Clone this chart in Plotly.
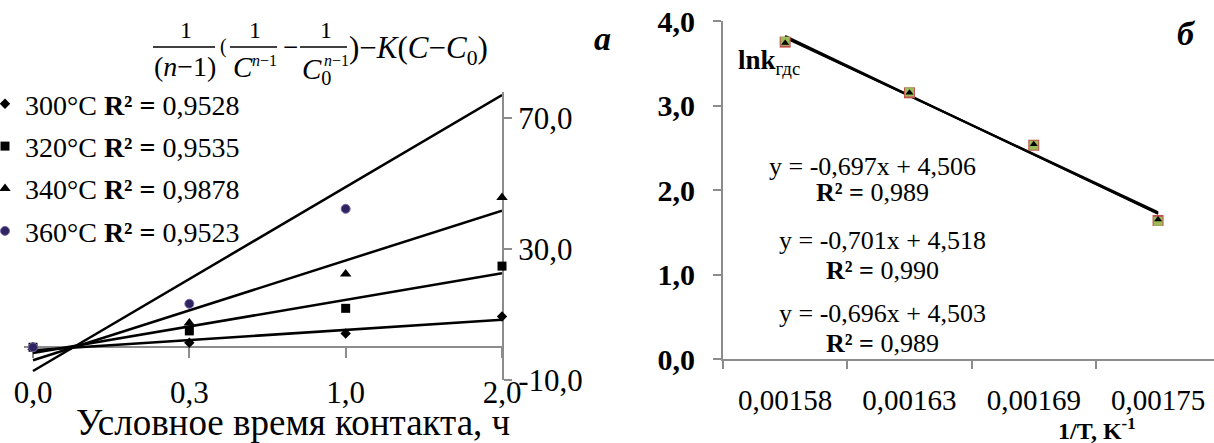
import numpy as np
import plotly.graph_objects as go

W, H = 1214, 443
def PX(x): return x / W
def PY(y): return 1 - y / H

FONT = "Liberation Serif, Times New Roman, serif"
GRAY = "#8c8c8c"

# ---------------- Left panel data ----------------
time_cats = ["0,0", "0,3", "1,0", "2,0"]
temps_left = ["300°C", "320°C", "340°C", "360°C"]
r2_left = ["0,9528", "0,9535", "0,9878", "0,9523"]
y300 = [0.0, 1.4, 4.2, 9.4]
y320 = [0.0, 5.0, 11.9, 24.8]
y340 = [0.0, 7.4, 22.4, 45.8]
y360 = [0.0, 13.3, 42.3, 84.0]
left_y_ticks = [-10, 30, 70]
left_y_ticktext = ["-10,0", "30,0", "70,0"]

# ---------------- Right panel data ----------------
inv_T_cats = ["0,00158", "0,00163", "0,00169", "0,00175"]
lnk_s1 = [3.75, 3.15, 2.53, 1.64]
lnk_s2 = [3.76, 3.16, 2.53, 1.63]
lnk_s3 = [3.74, 3.15, 2.54, 1.65]
eq_texts = ["y = -0,697x + 4,506", "y = -0,701x + 4,518", "y = -0,696x + 4,503"]
eq_r2 = ["0,989", "0,990", "0,989"]
right_y_ticks = [0, 1, 2, 3, 4]
right_y_ticktext = ["0,0", "1,0", "2,0", "3,0", "4,0"]

fig = go.Figure()

left_series = [y300, y320, y340, y360]
left_styles = [
    dict(symbol="diamond", size=8, color="black"),
    dict(symbol="square", size=9, color="black"),
    dict(symbol="triangle-up", size=10, color="black"),
    dict(symbol="circle", size=9, color="#2f2360", line=dict(color="#7a6aa8", width=1)),
]

idx = np.arange(len(time_cats))
for vals in left_series:
    k, b = np.polyfit(idx, vals, 1)
    fig.add_trace(go.Scatter(
        x=[time_cats[0], time_cats[-1]], y=[b, k * idx[-1] + b],
        mode="lines", line=dict(color="black", width=2.5),
        showlegend=False, hoverinfo="skip", xaxis="x", yaxis="y"))

for i, vals in enumerate(left_series):
    fig.add_trace(go.Scatter(
        x=time_cats, y=vals, mode="markers", marker=left_styles[i],
        name=f"{temps_left[i]} <b>R² =</b> {r2_left[i]}",
        legendgroup=f"g{i}", cliponaxis=(i == 3),
        xaxis="x", yaxis="y"))

fig.add_trace(go.Scatter(x=[0, 3], y=[None, None], xaxis="x3", yaxis="y",
                         showlegend=False, hoverinfo="skip", mode="lines"))

# ---------------- Right panel ----------------
right_series = [lnk_s1, lnk_s2, lnk_s3]
right_styles = [
    dict(symbol="square", size=11, color="#c0504d"),
    dict(symbol="square", size=9, color="#9bbb59"),
    dict(symbol="triangle-up", size=7, color="black"),
]
for vals in right_series:
    k, b = np.polyfit(idx, vals, 1)
    fig.add_trace(go.Scatter(
        x=[inv_T_cats[0], inv_T_cats[-1]], y=[b, k * idx[-1] + b],
        mode="lines", line=dict(color="black", width=2),
        showlegend=False, hoverinfo="skip", xaxis="x2", yaxis="y2"))
for i, vals in enumerate(right_series):
    fig.add_trace(go.Scatter(
        x=inv_T_cats, y=vals, mode="markers", marker=right_styles[i],
        showlegend=False, cliponaxis=False, xaxis="x2", yaxis="y2"))

# ---------------- Layout ----------------
L_dom_x = [PX(33 - 0.06 * 156.3), PX(502)]
L_dom_y = [PY(380), PY(92)]
R_dom_x = [PX(723), 1.0]
R_dom_y = [PY(359), PY(21)]

fig.update_layout(
    width=W, height=H,
    margin=dict(l=0, r=0, t=0, b=0, autoexpand=False),
    paper_bgcolor="white", plot_bgcolor="white",
    font=dict(family=FONT, color="black"),
    separators=", ",
    xaxis=dict(domain=L_dom_x, anchor="y", type="category",
               categoryorder="array", categoryarray=time_cats,
               range=[-0.06, 3], showline=False, ticks="", showgrid=False,
               zeroline=False, tickfont=dict(family=FONT, size=31, color="black"),
               ticklabelstandoff=-9, automargin=False),
    xaxis3=dict(overlaying="x", anchor="free", position=PY(347.3),
                type="linear", range=[-0.06, 3], tickvals=[0, 1, 2, 3],
                ticks="outside", ticklen=10, tickwidth=2, tickcolor=GRAY,
                showline=True, linecolor=GRAY, linewidth=2,
                showticklabels=False, showgrid=False, zeroline=False,
                layer="below traces", automargin=False),
    yaxis=dict(domain=L_dom_y, anchor="x", side="right", range=[-10, 78],
               tickvals=left_y_ticks, ticktext=left_y_ticktext,
               ticks="outside", ticklen=8, tickwidth=2, tickcolor=GRAY,
               showline=True, linecolor=GRAY, linewidth=2,
               showgrid=False, zeroline=False,
               tickfont=dict(family=FONT, size=31, color="black"),
               ticklabelstandoff=0,
               layer="below traces", automargin=False),
    xaxis2=dict(domain=R_dom_x, anchor="y2", type="category",
                categoryorder="array", categoryarray=inv_T_cats,
                range=[-0.5, 3.45], tickson="boundaries",
                ticks="outside", ticklen=8, tickwidth=2, tickcolor=GRAY,
                showline=True, linecolor=GRAY, linewidth=2,
                showgrid=False, zeroline=False,
                tickfont=dict(family=FONT, size=29, color="black"),
                ticklabelstandoff=14, automargin=False),
    yaxis2=dict(domain=R_dom_y, anchor="x2", range=[0, 4],
                tickvals=right_y_ticks, ticktext=right_y_ticktext,
                ticks="outside", ticklen=8, tickwidth=2, tickcolor=GRAY,
                showline=True, linecolor=GRAY, linewidth=2,
                showgrid=False, zeroline=False,
                tickfont=dict(family=FONT, size=30, color="black", weight="bold"),
                ticklabelstandoff=12, automargin=False),
    legend=dict(x=PX(-15), xanchor="left", y=PY(79), yanchor="top",
                font=dict(family=FONT, size=28, color="black"),
                tracegroupgap=3, bgcolor="rgba(0,0,0,0)", itemsizing="trace"),
    showlegend=True,
)

anns = []
shapes = []
def ann(text, x, y, size, xanchor="center", yanchor="middle"):
    anns.append(dict(text=text, x=PX(x), y=PY(y), xref="paper", yref="paper",
                     showarrow=False, xanchor=xanchor, yanchor=yanchor,
                     font=dict(family=FONT, size=size, color="black")))
def bar(x0, x1, y):
    shapes.append(dict(type="line", xref="paper", yref="paper",
                       x0=PX(x0), x1=PX(x1), y0=PY(y), y1=PY(y),
                       line=dict(color="black", width=1.5)))

# formula
ann("1", 186, 30, 24)
bar(153, 215, 47)
ann("(<i>n</i>−1)", 185, 67, 28)
ann("(", 223, 47, 20)
ann("1", 255, 30, 24)
bar(230, 277, 47)
ann("<i>C</i>", 243, 67, 29)
ann("<i>n</i>−1", 264, 61, 16)
ann("−", 290, 47, 27)
ann("1", 326, 30, 24)
bar(300, 347, 47)
ann("<i>C</i><sub>0</sub>", 316, 71, 29)
ann("<i>n</i>−1", 336, 61, 16)
ann(")−<i>K</i>(<i>C</i>−<i>C</i><sub>0</sub>)", 347, 50, 31, xanchor="left")

# panel labels
ann("<b><i>а</i></b>", 602, 38, 34)
ann("<b><i>б</i></b>", 1186, 33, 34)

# axis titles
ann("Условное время контакта, ч", 293, 422, 37)
ann("<b>1/T, K<sup>-1</sup></b>", 1097, 429, 24)

# right panel texts
ann("<b>lnk</b><sub>гдс</sub>", 736, 62, 27, xanchor="left")
eq_pos = [(872, 166, 193), (882, 240, 270), (882, 313, 343)]
for (cx, ye, yr), e, r in zip(eq_pos, eq_texts, eq_r2):
    ann(e, cx, ye, 26)
    ann(f"<b>R² =</b> {r}", cx, yr, 26)

fig.update_layout(annotations=anns, shapes=shapes)

fig.write_html("out.html")
